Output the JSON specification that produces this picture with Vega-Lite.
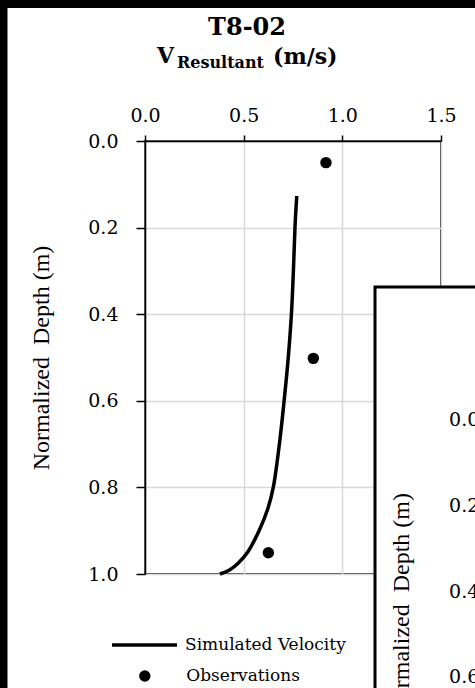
{
  "$schema": "https://vega.github.io/schema/vega-lite/v6.json",
  "autosize": {"type": "none"},
  "padding": {"left": 145, "top": 141, "right": 34, "bottom": 114},
  "width": 296,
  "height": 433,
  "background": "white",
  "config": {
    "view": {"stroke": "black", "strokeWidth": 1.5},
    "font": "DejaVu Serif",
    "axis": {
      "labelFont": "DejaVu Serif",
      "labelFontSize": 19,
      "labelColor": "black",
      "domainColor": "black",
      "domainWidth": 1.5,
      "tickColor": "black",
      "tickWidth": 1.5,
      "gridColor": "#d9d9d9",
      "gridWidth": 1.5,
      "gridOpacity": 1,
      "labelFlush": false,
      "labelOverlap": false
    }
  },
  "data": {
    "values": [
      {"series": "Simulated Velocity", "velocity": 0.769, "depth": 0.127},
      {"series": "Simulated Velocity", "velocity": 0.760, "depth": 0.2},
      {"series": "Simulated Velocity", "velocity": 0.752, "depth": 0.3},
      {"series": "Simulated Velocity", "velocity": 0.742, "depth": 0.4},
      {"series": "Simulated Velocity", "velocity": 0.726, "depth": 0.5},
      {"series": "Simulated Velocity", "velocity": 0.705, "depth": 0.6},
      {"series": "Simulated Velocity", "velocity": 0.681, "depth": 0.7},
      {"series": "Simulated Velocity", "velocity": 0.650, "depth": 0.8},
      {"series": "Simulated Velocity", "velocity": 0.622, "depth": 0.85},
      {"series": "Simulated Velocity", "velocity": 0.578, "depth": 0.9},
      {"series": "Simulated Velocity", "velocity": 0.52, "depth": 0.95},
      {"series": "Simulated Velocity", "velocity": 0.472, "depth": 0.975},
      {"series": "Simulated Velocity", "velocity": 0.43, "depth": 0.99},
      {"series": "Simulated Velocity", "velocity": 0.38, "depth": 1.0},
      {"series": "Observations", "velocity": 0.917, "depth": 0.05},
      {"series": "Observations", "velocity": 0.853, "depth": 0.502},
      {"series": "Observations", "velocity": 0.625, "depth": 0.951}
    ]
  },
  "layer": [
    {
      "mark": {"type": "line", "color": "black", "strokeWidth": 3.5, "interpolate": "catmull-rom"},
      "transform": [{"filter": "datum.series === 'Simulated Velocity'"}],
      "encoding": {
        "x": {
          "field": "velocity", "type": "quantitative",
          "scale": {"domain": [0, 1.5], "nice": false, "zero": false},
          "axis": {"orient": "top", "values": [0, 0.5, 1, 1.5], "format": ".1f", "title": null, "tickSize": 6, "labelPadding": 10, "grid": true}
        },
        "y": {
          "field": "depth", "type": "quantitative",
          "scale": {"domain": [0, 1], "reverse": true, "nice": false, "zero": false},
          "axis": {"orient": "left", "values": [0, 0.2, 0.4, 0.6, 0.8, 1], "format": ".1f", "title": "Normalized\u00a0 Depth (m)", "titleFont": "Liberation Serif", "titleFontSize": 24, "titleFontWeight": "normal", "titleColor": "black", "titlePadding": 34, "tickSize": 9, "labelPadding": 18, "grid": true}
        },
        "order": {"field": "depth", "type": "quantitative"},
        "color": {
          "field": "series", "type": "nominal",
          "scale": {"domain": ["Simulated Velocity"], "range": ["black"]},
          "legend": {"title": null, "orient": "none", "legendX": -35, "legendY": 469.5, "padding": 0, "symbolType": "stroke", "symbolSize": 4225, "symbolStrokeWidth": 3.5, "symbolStrokeColor": "black", "labelFont": "DejaVu Serif", "labelFontSize": 17, "labelColor": "black", "labelOffset": 6, "labelLimit": 0}
        }
      }
    },
    {
      "mark": {"type": "point", "filled": true, "color": "black", "size": 130, "opacity": 1},
      "transform": [{"filter": "datum.series === 'Observations'"}],
      "encoding": {
        "x": {"field": "velocity", "type": "quantitative"},
        "y": {"field": "depth", "type": "quantitative"},
        "shape": {
          "field": "series", "type": "nominal",
          "scale": {"domain": ["Observations"], "range": ["circle"]},
          "legend": {"title": null, "orient": "none", "legendX": -8.7, "legendY": 526.5, "padding": 0, "symbolType": "circle", "symbolSize": 130, "symbolFillColor": "black", "symbolStrokeColor": "black", "symbolStrokeWidth": 0, "labelFont": "DejaVu Serif", "labelFontSize": 17, "labelColor": "black", "labelOffset": 33, "labelLimit": 0}
        }
      }
    },
    {
      "data": {"values": [{}]},
      "mark": {"type": "rect", "fill": "white", "stroke": "black", "strokeWidth": 3},
      "encoding": {"x": {"datum": 1.1656}, "x2": {"datum": 3}, "y": {"datum": 0.3372}, "y2": {"datum": 2}}
    },
    {
      "data": {"values": [{}]},
      "mark": {"type": "rect", "fill": "black"},
      "encoding": {"x": {"datum": -1}, "x2": {"datum": -0.6968}, "y": {"datum": -1}, "y2": {"datum": 2}}
    },
    {
      "data": {"values": [{}]},
      "mark": {"type": "rect", "fill": "black"},
      "encoding": {"x": {"datum": -1}, "x2": {"datum": 3}, "y": {"datum": -1}, "y2": {"datum": -0.3072}}
    },
    {
      "data": {"values": [{}]},
      "mark": {"type": "text", "text": "0.0", "font": "DejaVu Serif", "fontSize": 19, "align": "left", "baseline": "middle", "color": "black"},
      "encoding": {"x": {"datum": 1.541}, "y": {"datum": 0.644}}
    },
    {
      "data": {"values": [{}]},
      "mark": {"type": "text", "text": "0.2", "font": "DejaVu Serif", "fontSize": 19, "align": "left", "baseline": "middle", "color": "black"},
      "encoding": {"x": {"datum": 1.541}, "y": {"datum": 0.843}}
    },
    {
      "data": {"values": [{}]},
      "mark": {"type": "text", "text": "0.4", "font": "DejaVu Serif", "fontSize": 19, "align": "left", "baseline": "middle", "color": "black"},
      "encoding": {"x": {"datum": 1.541}, "y": {"datum": 1.042}}
    },
    {
      "data": {"values": [{}]},
      "mark": {"type": "text", "text": "0.6", "font": "DejaVu Serif", "fontSize": 19, "align": "left", "baseline": "middle", "color": "black"},
      "encoding": {"x": {"datum": 1.541}, "y": {"datum": 1.238}}
    },
    {
      "data": {"values": [{}]},
      "mark": {"type": "text", "text": "Normalized\u00a0 Depth (m)", "font": "Liberation Serif", "fontSize": 24, "angle": 270, "align": "right", "baseline": "middle", "color": "black"},
      "encoding": {"x": {"datum": 1.3024}, "y": {"datum": 0.8129}}
    },
    {
      "data": {"values": [{}]},
      "mark": {"type": "text", "text": "T8-02", "font": "DejaVu Serif", "fontWeight": "bold", "fontSize": 24, "align": "center", "baseline": "alphabetic", "color": "black"},
      "encoding": {"x": {"datum": 0.517}, "y": {"datum": -0.2448}}
    },
    {
      "data": {"values": [{}]},
      "mark": {"type": "text", "text": "V", "font": "DejaVu Serif", "fontWeight": "bold", "fontSize": 22, "align": "left", "baseline": "alphabetic", "color": "black"},
      "encoding": {"x": {"datum": 0.0608}, "y": {"datum": -0.1801}}
    },
    {
      "data": {"values": [{}]},
      "mark": {"type": "text", "text": "Resultant", "font": "DejaVu Serif", "fontWeight": "bold", "fontSize": 16, "align": "left", "baseline": "alphabetic", "color": "black"},
      "encoding": {"x": {"datum": 0.1622}, "y": {"datum": -0.1686}}
    },
    {
      "data": {"values": [{}]},
      "mark": {"type": "text", "text": "(m/s)", "font": "DejaVu Serif", "fontWeight": "bold", "fontSize": 22, "align": "left", "baseline": "alphabetic", "color": "black"},
      "encoding": {"x": {"datum": 0.6487}, "y": {"datum": -0.1778}}
    }
  ]
}
